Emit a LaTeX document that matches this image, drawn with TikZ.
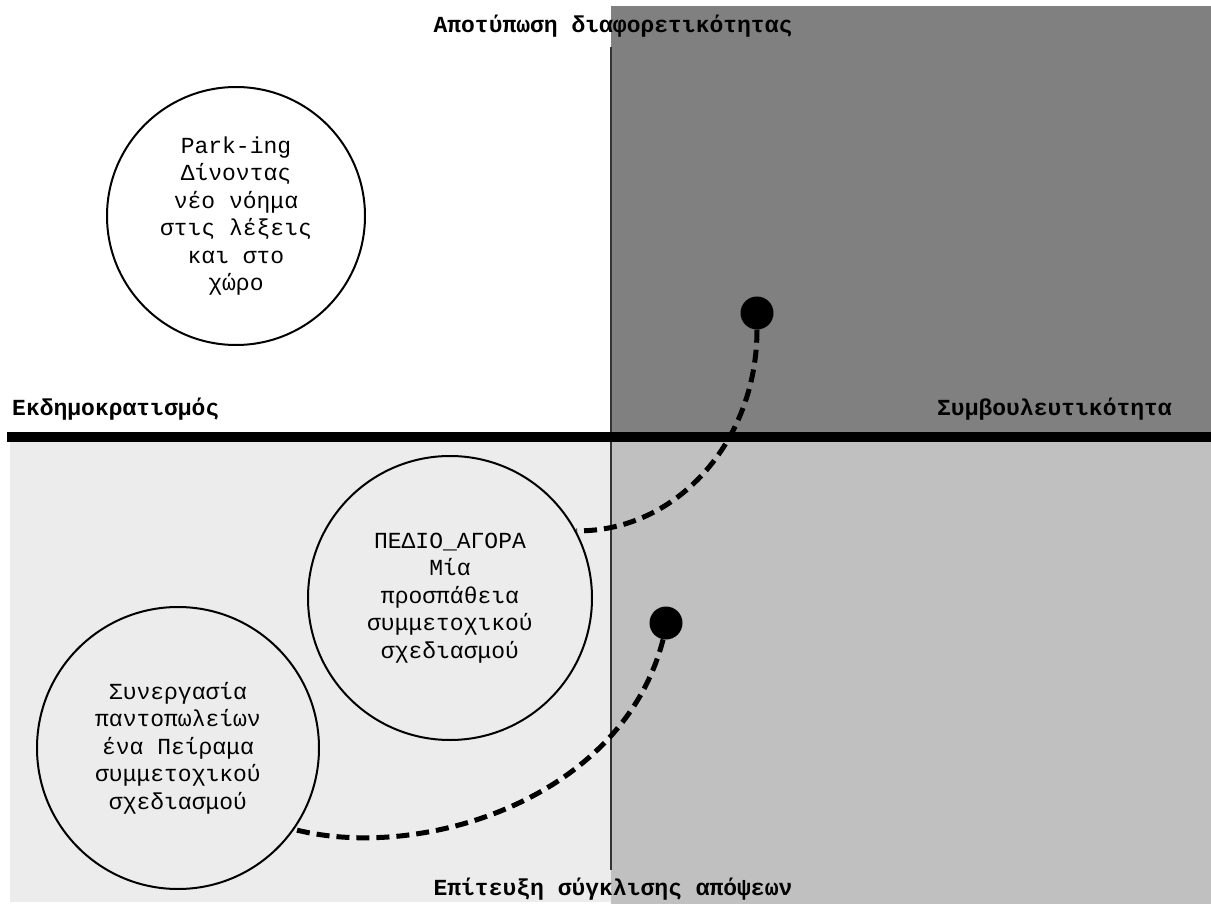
\documentclass[tikz,border=0pt]{standalone}
\usepackage{fontspec}
\newfontfamily\monof{Liberation Mono}
\definecolor{qTR}{HTML}{808080}
\definecolor{qBL}{HTML}{ECECEC}
\definecolor{qBR}{HTML}{C0C0C0}
\begin{document}
\begin{tikzpicture}[x=1pt,y=-1pt,
  bubble/.style={circle,draw=black,line width=2pt,inner sep=0pt,align=center,
    font=\monof\fontsize{23}{27.5}\selectfont},
  axislabel/.style={inner sep=0pt,font=\monof\bfseries\fontsize{23}{27}\selectfont},
  dotmark/.style={circle,fill=black,inner sep=0pt,minimum size=33pt},
  conn/.style={line width=5pt,dash pattern=on 13pt off 7pt}]
\useasboundingbox (0,0) rectangle (1211,904);
\fill[white] (0,0) rectangle (1211,904);
\fill[qTR] (611,6) rectangle (1211,433);
\fill[qBL] (10,442) rectangle (611,902);
\fill[qBR] (611,442) rectangle (1211,904);
\coordinate (vtop) at (611,47);
\coordinate (vbot) at (611,870);
\draw[line width=1.3pt,color=black!80] (vtop) -- (vbot);
\coordinate (hl) at (7,437);
\coordinate (hr) at (1211,437);
\draw[line width=10pt] (hl) -- (hr);

\node[axislabel,anchor=base] (top) at (613,33) {Αποτύπωση διαφορετικότητας};
\node[axislabel,anchor=base] (bot) at (613,895) {Επίτευξη σύγκλισης απόψεων};
\node[axislabel,anchor=base west] (left) at (12,415) {Εκδημοκρατισμός};
\node[axislabel,anchor=base east] (right) at (1172,415) {Συμβουλευτικότητα};

\node[bubble,minimum size=258pt] (c1) at (236,216) {Park-ing\\Δίνοντας\\νέο νόημα\\στις λέξεις\\και στο\\χώρο};
\node[bubble,minimum size=284pt] (c2) at (450,598) {ΠΕΔΙΟ\_ΑΓΟΡΑ\\Μία\\προσπάθεια\\συμμετοχικού\\σχεδιασμού};
\node[bubble,minimum size=282pt] (c3) at (178,748) {Συνεργασία\\παντοπωλείων\\ένα Πείραμα\\συμμετοχικού\\σχεδιασμού};

\node[dotmark] (d1) at (757,313) {};
\node[dotmark] (d2) at (666,623) {};

\draw[conn] (d1.south) .. controls (757,442) and (676,532) .. (c2.28);
\draw[conn] (d2.-100) .. controls (622,800) and (420,862) .. (c3.-35);
\end{tikzpicture}
\end{document}
